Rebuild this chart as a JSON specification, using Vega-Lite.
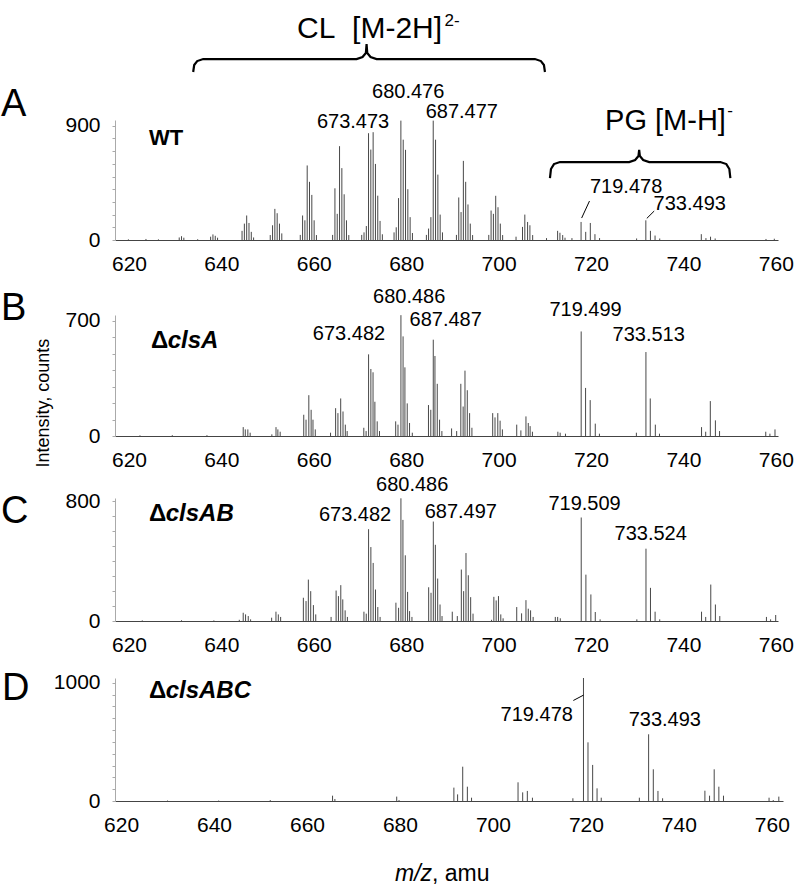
{
"$schema": "https://vega.github.io/schema/vega-lite/v6.json",
"background": "white",
"padding": {"left": 0, "top": 12, "right": 5, "bottom": 5},
"config": {"font": "Liberation Sans", "view": {"stroke": null}, "axis": {"grid": false, "labelFont": "Liberation Sans", "labelColor": "#000", "labelFontSize": 21}},
"bounds": "flush",
"spacing": 75,
"vconcat": [
{
 "width": 663, "height": 120,
 "encoding": {
  "x": {"field": "mz", "type": "quantitative", "scale": {"domain": [618.6, 762.1], "nice": false, "zero": false}, "axis": {"values": [620,640,660,680,700,720,740,760], "ticks": false, "domainColor": "#444", "labelPadding": 13, "labelOffset": 7.5, "title": null, "labelFlush": false, "labelOverlap": false}},
  "y": {"field": "v", "type": "quantitative", "scale": {"domain": [0, 945], "nice": false}, "axis": {"values": [0,100,200,300,400,500,600,700,800,900], "format": "d", "labelExpr": "datum.value == 0 || datum.value == 900 ? datum.label : ''", "domainColor": "#aaa", "tickColor": "#aaa", "tickSize": 3, "labelPadding": 12, "title": null, "labelOverlap": false}}
 },
 "layer": [
  {"data": {"values": [
   {"mz":621.5,"v":5},{"mz":625.3,"v":8},{"mz":628.0,"v":5},{"mz":636.5,"v":6},
   {"mz":632.5,"v":20},{"mz":633.0,"v":30},{"mz":633.5,"v":18},
   {"mz":639.3,"v":26},{"mz":639.8,"v":44},{"mz":640.3,"v":33},{"mz":640.8,"v":18},
   {"mz":646.1,"v":72},{"mz":646.6,"v":129},{"mz":647.1,"v":193},{"mz":647.6,"v":134},{"mz":648.1,"v":64},{"mz":648.6,"v":20},
   {"mz":652.2,"v":39},{"mz":652.7,"v":116},{"mz":653.2,"v":245},{"mz":653.7,"v":211},{"mz":654.2,"v":129},{"mz":654.7,"v":52},
   {"mz":658.7,"v":40},{"mz":659.2,"v":193},{"mz":659.7,"v":155},{"mz":660.2,"v":587},{"mz":660.7,"v":458},{"mz":661.2,"v":355},{"mz":661.7,"v":155},{"mz":662.2,"v":39},
   {"mz":665.7,"v":40},{"mz":666.2,"v":407},{"mz":666.7,"v":206},{"mz":667.2,"v":739},{"mz":667.7,"v":566},{"mz":668.2,"v":360},{"mz":668.7,"v":155},{"mz":669.2,"v":39},
   {"mz":672.0,"v":40},{"mz":672.5,"v":60},{"mz":673.0,"v":110},{"mz":673.473,"v":841},{"mz":673.97,"v":712},{"mz":674.47,"v":849},{"mz":674.97,"v":599},{"mz":675.47,"v":349},{"mz":675.97,"v":150},{"mz":676.47,"v":45},
   {"mz":679.0,"v":60},{"mz":679.47,"v":100},{"mz":679.97,"v":330},{"mz":680.476,"v":940},{"mz":680.98,"v":790},{"mz":681.48,"v":710},{"mz":681.98,"v":400},{"mz":682.48,"v":180},{"mz":682.98,"v":55},
   {"mz":686.0,"v":40},{"mz":686.47,"v":90},{"mz":686.97,"v":180},{"mz":687.477,"v":940},{"mz":687.98,"v":790},{"mz":688.48,"v":515},{"mz":688.98,"v":200},{"mz":689.48,"v":60},
   {"mz":692.5,"v":40},{"mz":693.0,"v":335},{"mz":693.5,"v":220},{"mz":694.0,"v":623},{"mz":694.5,"v":458},{"mz":695.0,"v":280},{"mz":695.5,"v":129},{"mz":696.0,"v":39},
   {"mz":699.5,"v":40},{"mz":700.0,"v":232},{"mz":700.5,"v":206},{"mz":701.0,"v":348},{"mz":701.5,"v":258},{"mz":702.0,"v":129},{"mz":702.5,"v":39},
   {"mz":705.4,"v":26},{"mz":706.8,"v":103},{"mz":707.3,"v":200},{"mz":707.9,"v":142},{"mz":708.4,"v":116},{"mz":709.0,"v":39},
   {"mz":712.0,"v":15},{"mz":714.4,"v":72},{"mz":714.9,"v":57},{"mz":715.5,"v":39},{"mz":716.0,"v":18},
   {"mz":717.5,"v":15},{"mz":719.478,"v":142},{"mz":720.48,"v":64},{"mz":721.48,"v":134},{"mz":722.48,"v":46},{"mz":723.48,"v":15},
   {"mz":731.5,"v":12},{"mz":733.493,"v":155},{"mz":734.49,"v":72},{"mz":735.49,"v":35},{"mz":736.5,"v":12},
   {"mz":745.5,"v":46},{"mz":746.5,"v":15},{"mz":747.5,"v":26},{"mz":748.5,"v":12},
   {"mz":759.5,"v":8},{"mz":761.3,"v":10}
  ]},
  "mark": {"type": "rule", "color": "#333", "strokeWidth": 0.9},
  "encoding": {"y2": {"datum": 0}}},
  {"data": {"values": [
   {"mz":670.12,"v":882,"t":"673.473"},{"mz":682.05,"v":1118,"t":"680.476"},{"mz":693.66,"v":961,"t":"687.477"},
   {"mz":729.23,"v":370,"t":"719.478"},{"mz":743.0,"v":236,"t":"733.493"}
  ]},
  "mark": {"type": "text", "fontSize": 20, "align": "center", "baseline": "alphabetic", "color": "#000"},
  "encoding": {"text": {"field": "t"}}},
  {"data": {"values": [
   {"mz":721.3,"v":307,"mz2":719.6,"v2":173},{"mz":735.3,"v":228,"mz2":733.7,"v2":170}
  ]},
  "mark": {"type": "rule", "color": "#000", "strokeWidth": 1},
  "encoding": {"x2": {"field": "mz2"}, "y2": {"field": "v2"}}},
  {"data": {"values": [
   {"b":"CL","o":1,"mz":635.52,"v":1323},{"b":"CL","o":2,"mz":635.74,"v":1378},{"b":"CL","o":3,"mz":636.39,"v":1409},{"b":"CL","o":4,"mz":637.69,"v":1425},{"b":"CL","o":5,"mz":670.88,"v":1425},{"b":"CL","o":6,"mz":672.18,"v":1441},{"b":"CL","o":7,"mz":672.9,"v":1472},{"b":"CL","o":8,"mz":673.05,"v":1543},{"b":"CL","o":9,"mz":673.2,"v":1472},{"b":"CL","o":10,"mz":673.91,"v":1441},{"b":"CL","o":11,"mz":675.22,"v":1425},{"b":"CL","o":12,"mz":709.49,"v":1425},{"b":"CL","o":13,"mz":710.79,"v":1409},{"b":"CL","o":14,"mz":711.44,"v":1378},{"b":"CL","o":15,"mz":711.66,"v":1323},
   {"b":"PG","o":1,"mz":712.74,"v":488},{"b":"PG","o":2,"mz":712.96,"v":559},{"b":"PG","o":3,"mz":713.61,"v":598},{"b":"PG","o":4,"mz":714.91,"v":614},{"b":"PG","o":5,"mz":729.88,"v":614},{"b":"PG","o":6,"mz":731.18,"v":630},{"b":"PG","o":7,"mz":731.9,"v":661},{"b":"PG","o":8,"mz":732.05,"v":709},{"b":"PG","o":9,"mz":732.2,"v":661},{"b":"PG","o":10,"mz":732.92,"v":630},{"b":"PG","o":11,"mz":734.22,"v":614},{"b":"PG","o":12,"mz":749.62,"v":614},{"b":"PG","o":13,"mz":750.92,"v":598},{"b":"PG","o":14,"mz":751.57,"v":559},{"b":"PG","o":15,"mz":751.79,"v":488}
  ]},
  "mark": {"type": "line", "color": "#000", "strokeWidth": 2.2, "interpolate": "linear"},
  "encoding": {"detail": {"field": "b"}, "order": {"field": "o"}}},
  {"data": {"values": [{"mz":673.7,"v":1591,"t":"CL\u00a0 [M-2H]"}]},
  "mark": {"type": "text", "fontSize": 30, "align": "center", "baseline": "alphabetic", "color": "#000"},
  "encoding": {"text": {"field": "t"}}},
  {"data": {"values": [{"mz":724.67,"v":866,"t":"PG [M-H]"}]},
  "mark": {"type": "text", "fontSize": 29, "align": "left", "baseline": "alphabetic", "color": "#000"},
  "encoding": {"text": {"field": "t"}}},
  {"data": {"values": [{"mz":689.9,"v":1685,"t":"2-"},{"mz":751.1,"v":976,"t":"-"}]},
  "mark": {"type": "text", "fontSize": 17, "align": "left", "baseline": "alphabetic", "color": "#000"},
  "encoding": {"text": {"field": "t"}}},
  {"data": {"values": [{"mz":593.9,"v":976,"t":"A"}]},
  "mark": {"type": "text", "fontSize": 38, "align": "left", "baseline": "alphabetic", "color": "#000"},
  "encoding": {"text": {"field": "t"}}},
  {"data": {"values": [{"mz":625.98,"v":748,"t":"WT"}]},
  "mark": {"type": "text", "fontSize": 22, "fontWeight": "bold", "align": "left", "baseline": "alphabetic", "color": "#000"},
  "encoding": {"text": {"field": "t"}}}
 ]
},
{
 "bounds": "flush",
 "spacing": 62,
 "vconcat": [
 {
  "width": 663, "height": 121,
  "encoding": {
   "x": {"field": "mz", "type": "quantitative", "scale": {"domain": [618.6, 762.1], "nice": false, "zero": false}, "axis": {"values": [620,640,660,680,700,720,740,760], "ticks": false, "domainColor": "#444", "labelPadding": 13, "labelOffset": 7.5, "title": null, "labelFlush": false, "labelOverlap": false}},
   "y": {"field": "v", "type": "quantitative", "scale": {"domain": [0, 735], "nice": false}, "axis": {"values": [0,100,200,300,400,500,600,700], "format": "d", "labelExpr": "datum.value == 0 || datum.value == 700 ? datum.label : ''", "domainColor": "#aaa", "tickColor": "#aaa", "tickSize": 3, "labelPadding": 12, "title": null, "labelOverlap": false}}
  },
  "layer": [
   {"data": {"values": [
    {"mz":624.0,"v":4},{"mz":631.0,"v":5},{"mz":638.5,"v":5},
    {"mz":646.35,"v":54},{"mz":646.8,"v":40},{"mz":647.35,"v":40},{"mz":647.85,"v":20},
    {"mz":652.55,"v":10},{"mz":653.45,"v":54},{"mz":653.85,"v":40},{"mz":654.35,"v":26},
    {"mz":659.45,"v":129},{"mz":659.95,"v":99},{"mz":660.55,"v":248},{"mz":661.05,"v":159},{"mz":661.45,"v":99},{"mz":661.95,"v":40},
    {"mz":665.25,"v":20},{"mz":666.35,"v":169},{"mz":666.85,"v":139},{"mz":667.45,"v":228},{"mz":667.95,"v":149},{"mz":668.45,"v":69},{"mz":668.85,"v":30},
    {"mz":672.45,"v":50},{"mz":672.95,"v":30},{"mz":673.482,"v":496},{"mz":673.98,"v":407},{"mz":674.45,"v":387},{"mz":674.85,"v":208},{"mz":675.35,"v":89},{"mz":675.85,"v":30},
    {"mz":679.35,"v":89},{"mz":679.85,"v":69},{"mz":680.486,"v":734},{"mz":680.95,"v":605},{"mz":681.35,"v":417},{"mz":681.85,"v":198},{"mz":682.35,"v":79},{"mz":682.95,"v":20},
    {"mz":686.45,"v":188},{"mz":686.95,"v":159},{"mz":687.487,"v":585},{"mz":687.85,"v":486},{"mz":688.35,"v":317},{"mz":688.85,"v":99},{"mz":689.35,"v":30},
    {"mz":691.45,"v":46},{"mz":692.55,"v":30},{"mz":693.45,"v":317},{"mz":693.95,"v":179},{"mz":694.35,"v":397},{"mz":694.85,"v":278},{"mz":695.35,"v":139},{"mz":695.85,"v":50},
    {"mz":700.35,"v":139},{"mz":700.85,"v":113},{"mz":701.45,"v":139},{"mz":701.95,"v":93},{"mz":702.45,"v":40},
    {"mz":705.55,"v":69},{"mz":706.45,"v":34},{"mz":707.55,"v":119},{"mz":708.05,"v":79},{"mz":708.45,"v":60},{"mz":708.95,"v":26},
    {"mz":714.45,"v":26},{"mz":714.95,"v":20},{"mz":716.1,"v":14},
    {"mz":719.499,"v":635},{"mz":720.45,"v":292},{"mz":721.45,"v":218},{"mz":722.55,"v":75},{"mz":723.45,"v":14},
    {"mz":731.45,"v":20},{"mz":733.513,"v":510},{"mz":734.45,"v":228},{"mz":735.55,"v":69},{"mz":736.45,"v":14},
    {"mz":745.55,"v":54},{"mz":746.45,"v":26},{"mz":747.45,"v":212},{"mz":748.55,"v":95},{"mz":749.45,"v":30},
    {"mz":759.45,"v":26},{"mz":760.35,"v":14},{"mz":761.45,"v":40}
   ]},
   "mark": {"type": "rule", "color": "#333", "strokeWidth": 0.9},
   "encoding": {"y2": {"datum": 0}}},
   {"data": {"values": [
    {"mz":669.25,"v":583,"t":"673.482"},{"mz":682.27,"v":808,"t":"680.486"},{"mz":690.18,"v":668,"t":"687.487"},
    {"mz":720.44,"v":729,"t":"719.499"},{"mz":734.11,"v":577,"t":"733.513"}
   ]},
   "mark": {"type": "text", "fontSize": 20, "align": "center", "baseline": "alphabetic", "color": "#000"},
   "encoding": {"text": {"field": "t"}}},
   {"data": {"values": [{"mz":593.9,"v":705,"t":"B"}]},
   "mark": {"type": "text", "fontSize": 38, "align": "left", "baseline": "alphabetic", "color": "#000"},
   "encoding": {"text": {"field": "t"}}},
   {"data": {"values": [{"mz":626.41,"v":535,"t":"Δ"}]},
   "mark": {"type": "text", "fontSize": 24, "fontWeight": "bold", "align": "left", "baseline": "alphabetic", "color": "#000"},
   "encoding": {"text": {"field": "t"}}},
   {"data": {"values": [{"mz":630.0,"v":535,"t":"clsA"}]},
   "mark": {"type": "text", "fontSize": 24, "fontWeight": "bold", "fontStyle": "italic", "align": "left", "baseline": "alphabetic", "color": "#000"},
   "encoding": {"text": {"field": "t"}}},
   {"data": {"values": [{"mz":603.2,"v":200,"t":"Intensity, counts"}]},
   "mark": {"type": "text", "fontSize": 18, "angle": 270, "align": "center", "baseline": "middle", "color": "#000"},
   "encoding": {"text": {"field": "t"}}}
  ]
 },
 {
  "bounds": "flush",
  "spacing": 57,
  "vconcat": [
  {
   "width": 663, "height": 123,
   "encoding": {
    "x": {"field": "mz", "type": "quantitative", "scale": {"domain": [618.6, 762.1], "nice": false, "zero": false}, "axis": {"values": [620,640,660,680,700,720,740,760], "ticks": false, "domainColor": "#444", "labelPadding": 13, "labelOffset": 7.5, "title": null, "labelFlush": false, "labelOverlap": false}},
    "y": {"field": "v", "type": "quantitative", "scale": {"domain": [0, 820], "nice": false}, "axis": {"values": [0,100,200,300,400,500,600,700,800], "format": "d", "labelExpr": "datum.value == 0 || datum.value == 800 ? datum.label : ''", "domainColor": "#aaa", "tickColor": "#aaa", "tickSize": 3, "labelPadding": 12, "title": null, "labelOverlap": false}}
   },
   "layer": [
    {"data": {"values": [
     {"mz":624.5,"v":4},{"mz":633.0,"v":5},{"mz":640.0,"v":4},
     {"mz":645.5,"v":8},{"mz":646.35,"v":55},{"mz":646.86,"v":44},{"mz":647.44,"v":33},{"mz":647.95,"v":11},
     {"mz":652.5,"v":22},{"mz":653.44,"v":62},{"mz":653.95,"v":44},{"mz":654.45,"v":27},
     {"mz":659.37,"v":155},{"mz":659.95,"v":133},{"mz":660.45,"v":276},{"mz":660.96,"v":199},{"mz":661.54,"v":106},{"mz":662.05,"v":44},
     {"mz":665.37,"v":27},{"mz":666.46,"v":203},{"mz":666.96,"v":166},{"mz":667.47,"v":239},{"mz":667.9,"v":144},{"mz":668.41,"v":71},{"mz":668.9,"v":27},
     {"mz":672.48,"v":62},{"mz":672.98,"v":49},{"mz":673.482,"v":612},{"mz":673.98,"v":493},{"mz":674.48,"v":387},{"mz":674.98,"v":210},{"mz":675.48,"v":93},{"mz":675.98,"v":27},
     {"mz":679.4,"v":122},{"mz":679.98,"v":88},{"mz":680.486,"v":818},{"mz":680.92,"v":674},{"mz":681.43,"v":438},{"mz":681.93,"v":194},{"mz":682.36,"v":66},{"mz":682.87,"v":27},
     {"mz":686.49,"v":225},{"mz":687.0,"v":188},{"mz":687.497,"v":663},{"mz":687.94,"v":508},{"mz":688.44,"v":283},{"mz":688.95,"v":110},{"mz":689.38,"v":33},
     {"mz":691.6,"v":62},{"mz":692.69,"v":33},{"mz":693.56,"v":343},{"mz":694.06,"v":199},{"mz":694.57,"v":453},{"mz":695.07,"v":305},{"mz":695.58,"v":159},{"mz":696.09,"v":49},
     {"mz":700.1,"v":8},{"mz":700.6,"v":161},{"mz":701.1,"v":137},{"mz":701.6,"v":166},{"mz":702.1,"v":44},{"mz":702.6,"v":18},
     {"mz":705.55,"v":93},{"mz":706.6,"v":51},{"mz":707.55,"v":139},{"mz":708.05,"v":82},{"mz":708.55,"v":71},{"mz":709.1,"v":27},
     {"mz":713.9,"v":27},{"mz":714.41,"v":27},{"mz":714.98,"v":18},
     {"mz":719.509,"v":690},{"mz":720.52,"v":309},{"mz":721.6,"v":177},{"mz":722.55,"v":60},{"mz":723.6,"v":11},
     {"mz":731.55,"v":11},{"mz":733.524,"v":482},{"mz":734.5,"v":221},{"mz":735.5,"v":62},{"mz":736.5,"v":11},
     {"mz":745.55,"v":62},{"mz":746.45,"v":27},{"mz":747.55,"v":243},{"mz":748.55,"v":110},{"mz":749.5,"v":33},
     {"mz":759.6,"v":27},{"mz":760.5,"v":11},{"mz":761.6,"v":40}
    ]},
    "mark": {"type": "rule", "color": "#333", "strokeWidth": 0.9},
    "encoding": {"y2": {"datum": 0}}},
    {"data": {"values": [
     {"mz":670.55,"v":667,"t":"673.482"},{"mz":682.92,"v":867,"t":"680.486"},{"mz":693.44,"v":687,"t":"687.497"},
     {"mz":720.23,"v":740,"t":"719.509"},{"mz":734.54,"v":540,"t":"733.524"}
    ]},
    "mark": {"type": "text", "fontSize": 20, "align": "center", "baseline": "alphabetic", "color": "#000"},
    "encoding": {"text": {"field": "t"}}},
    {"data": {"values": [{"mz":593.9,"v":653,"t":"C"}]},
    "mark": {"type": "text", "fontSize": 38, "align": "left", "baseline": "alphabetic", "color": "#000"},
    "encoding": {"text": {"field": "t"}}},
    {"data": {"values": [{"mz":625.98,"v":667,"t":"Δ"}]},
    "mark": {"type": "text", "fontSize": 24, "fontWeight": "bold", "align": "left", "baseline": "alphabetic", "color": "#000"},
    "encoding": {"text": {"field": "t"}}},
    {"data": {"values": [{"mz":629.57,"v":667,"t":"clsAB"}]},
    "mark": {"type": "text", "fontSize": 24, "fontWeight": "bold", "fontStyle": "italic", "align": "left", "baseline": "alphabetic", "color": "#000"},
    "encoding": {"text": {"field": "t"}}}
   ]
  },
  {
   "width": 668, "height": 123,
   "encoding": {
    "x": {"field": "mz", "type": "quantitative", "scale": {"domain": [618.7, 762.4], "nice": false, "zero": false}, "axis": {"values": [620,640,660,680,700,720,740,760], "ticks": false, "domainColor": "#444", "labelPadding": 13, "title": null, "labelFlush": false, "labelOverlap": false}},
    "y": {"field": "v", "type": "quantitative", "scale": {"domain": [0, 1040], "nice": false}, "axis": {"values": [0,100,200,300,400,500,600,700,800,900,1000], "format": "d", "labelExpr": "datum.value == 0 || datum.value == 1000 ? datum.label : ''", "domainColor": "#aaa", "tickColor": "#aaa", "tickSize": 3, "labelPadding": 12, "title": null, "labelOverlap": false}}
   },
   "layer": [
    {"data": {"values": [
     {"mz":630.0,"v":4},{"mz":641.0,"v":4},{"mz":652.1,"v":8},{"mz":665.5,"v":45},{"mz":666.0,"v":17},{"mz":679.3,"v":37},{"mz":679.8,"v":8},
     {"mz":691.6,"v":113},{"mz":692.4,"v":56},{"mz":693.5,"v":290},{"mz":694.5,"v":121},{"mz":695.4,"v":28},
     {"mz":705.4,"v":158},{"mz":706.4,"v":73},{"mz":707.4,"v":85},{"mz":708.5,"v":28},
     {"mz":717.2,"v":23},{"mz":719.478,"v":1040},{"mz":720.45,"v":496},{"mz":721.45,"v":305},{"mz":722.4,"v":107},{"mz":723.3,"v":28},
     {"mz":731.5,"v":28},{"mz":733.493,"v":564},{"mz":734.5,"v":268},{"mz":735.5,"v":85},{"mz":736.5,"v":23},
     {"mz":745.6,"v":87},{"mz":746.6,"v":45},{"mz":747.6,"v":268},{"mz":748.6,"v":121},{"mz":749.6,"v":45},
     {"mz":759.4,"v":28},{"mz":760.3,"v":8},{"mz":761.5,"v":37}
    ]},
    "mark": {"type": "rule", "color": "#333", "strokeWidth": 0.9},
    "encoding": {"y2": {"datum": 0}}},
    {"data": {"values": [{"mz":717.2,"v":676,"t":"719.478"}]},
    "mark": {"type": "text", "fontSize": 20, "align": "right", "baseline": "alphabetic", "color": "#000"},
    "encoding": {"text": {"field": "t"}}},
    {"data": {"values": [{"mz":736.98,"v":634,"t":"733.493"}]},
    "mark": {"type": "text", "fontSize": 20, "align": "center", "baseline": "alphabetic", "color": "#000"},
    "encoding": {"text": {"field": "t"}}},
    {"data": {"values": [{"mz":717.3,"v":850,"mz2":719.478,"v2":895}]},
    "mark": {"type": "rule", "color": "#000", "strokeWidth": 1},
    "encoding": {"x2": {"field": "mz2"}, "y2": {"field": "v2"}}},
    {"data": {"values": [{"mz":594.4,"v":854,"t":"D"}]},
    "mark": {"type": "text", "fontSize": 38, "align": "left", "baseline": "alphabetic", "color": "#000"},
    "encoding": {"text": {"field": "t"}}},
    {"data": {"values": [{"mz":626.01,"v":871,"t":"Δ"}]},
    "mark": {"type": "text", "fontSize": 24, "fontWeight": "bold", "align": "left", "baseline": "alphabetic", "color": "#000"},
    "encoding": {"text": {"field": "t"}}},
    {"data": {"values": [{"mz":629.6,"v":871,"t":"clsABC"}]},
    "mark": {"type": "text", "fontSize": 24, "fontWeight": "bold", "fontStyle": "italic", "align": "left", "baseline": "alphabetic", "color": "#000"},
    "encoding": {"text": {"field": "t"}}},
    {"data": {"values": [{"mz":686.9,"v":-676,"t":"m/z"}]},
    "mark": {"type": "text", "fontSize": 23, "fontStyle": "italic", "align": "right", "baseline": "alphabetic", "color": "#000"},
    "encoding": {"text": {"field": "t"}}},
    {"data": {"values": [{"mz":686.9,"v":-676,"t":", amu"}]},
    "mark": {"type": "text", "fontSize": 23, "align": "left", "baseline": "alphabetic", "color": "#000"},
    "encoding": {"text": {"field": "t"}}}
   ]
  }
  ]
 }
 ]
}
]
}
